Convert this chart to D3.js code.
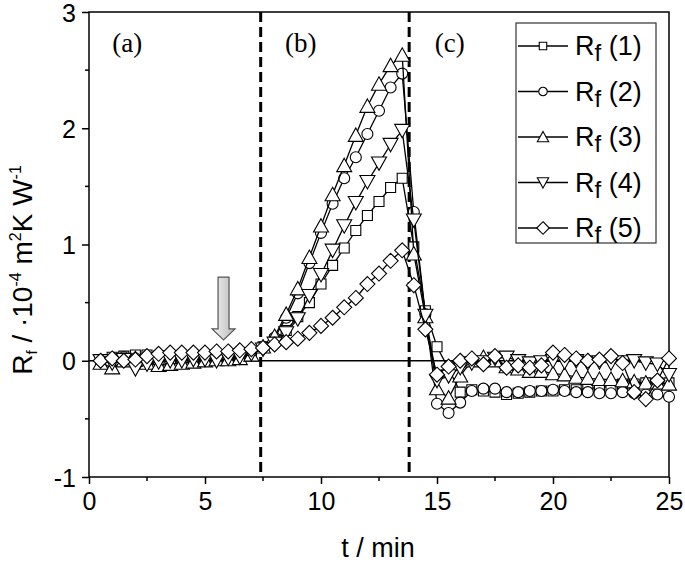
<!DOCTYPE html>
<html><head><meta charset="utf-8">
<script src="https://cdn.jsdelivr.net/npm/d3@7"></script>
<style>body{margin:0;background:#fff}svg{display:block}</style>
</head><body>
<svg id="c" width="685" height="563"></svg>
<script>
// ---- data ----
const times = [0.5,1,1.5,2,2.5,3,3.5,4,4.5,5,5.5,6,6.5,7,
  7.5,8,8.5,9,9.5,10,10.5,11,11.5,12,12.5,13,13.5,
  14,14.5,15,15.5,16,16.5,17,17.5,18,18.5,19,19.5,20,20.5,21,21.5,22,22.5,23,23.5,24,24.5,25];
const rf1 = [0.01,0.03,0.04,0.05,0.05,0.04,0.02,0.02,0.02,0.03,0.03,0.04,0.05,0.07,
  0.12,0.18,0.26,0.38,0.50,0.66,0.82,0.97,1.12,1.25,1.37,1.49,1.57,
  0.98,0.43,0.12,-0.07,-0.27,-0.25,-0.26,-0.27,-0.29,-0.28,-0.27,-0.26,-0.26,-0.25,-0.25,-0.24,-0.23,-0.22,-0.20,-0.20,-0.19,-0.19,-0.19];
const rf2 = [0.00,0.02,0.03,0.02,0.00,-0.01,0.00,0.01,0.01,0.02,0.03,0.03,0.04,0.07,
  0.12,0.20,0.37,0.58,0.84,1.10,1.35,1.57,1.75,1.95,2.15,2.35,2.47,
  1.28,0.40,-0.37,-0.45,-0.36,-0.26,-0.24,-0.24,-0.27,-0.27,-0.26,-0.26,-0.25,-0.26,-0.27,-0.27,-0.28,-0.28,-0.27,-0.28,-0.29,-0.29,-0.31];
const rf3 = [-0.02,-0.06,0.00,0.02,-0.02,-0.04,-0.03,-0.02,-0.01,0.00,0.01,0.01,0.02,0.05,
  0.12,0.21,0.40,0.62,0.89,1.16,1.43,1.68,1.94,2.19,2.38,2.54,2.63,
  0.92,0.38,-0.24,-0.32,-0.13,0.00,0.03,0.00,-0.05,-0.07,-0.09,-0.09,-0.11,-0.12,-0.14,-0.15,-0.16,-0.16,-0.17,-0.18,-0.19,-0.19,-0.20];
const rf4 = [0.00,-0.02,0.01,-0.07,-0.03,-0.01,0.00,0.00,0.01,0.01,0.00,0.02,0.03,0.06,
  0.10,0.15,0.24,0.36,0.56,0.74,0.95,1.16,1.36,1.54,1.70,1.86,1.98,
  1.21,0.39,-0.17,-0.13,-0.06,-0.02,-0.01,0.02,0.03,0.00,-0.02,-0.01,0.00,-0.01,0.00,-0.02,-0.01,-0.02,-0.01,0.00,-0.02,-0.03,-0.12];
const rf5 = [0.00,0.02,0.00,0.01,0.04,0.06,0.07,0.07,0.07,0.07,0.08,0.08,0.09,0.10,
  0.11,0.14,0.16,0.19,0.24,0.30,0.37,0.46,0.54,0.66,0.75,0.86,0.95,
  0.65,0.27,-0.12,-0.05,0.00,0.02,-0.03,0.04,-0.06,-0.04,-0.06,-0.04,0.07,0.05,0.02,0.00,0.01,0.04,-0.02,-0.27,-0.33,-0.17,0.02];
const seriesNames = ["(1)","(2)","(3)","(4)","(5)"];
const seriesValues = [rf1,rf2,rf3,rf4,rf5];
const seriesSymbols = ["square","circle","triangle","triangleDown","diamond"];
const xTicks = [0,5,10,15,20,25];
const yTicks = [-1,0,1,2,3];
const phaseBounds = [7.4,13.8];
const phaseLabels = [{t:1.0,label:"(a)"},{t:8.45,label:"(b)"},{t:14.9,label:"(c)"}];
const arrowAt = {t:5.8, top:0.72, tip:0.18};

// ---- layout ----
const svg = d3.select("#c");
const L=89, R=669, T=12, B=477;
const x = d3.scaleLinear().domain([0,25]).range([L,R]);
const y = d3.scaleLinear().domain([-1,3]).range([B,T]);
const FONT = "Liberation Sans, Arial, Helvetica, sans-serif";

function symPath(type, s){
  const h=s/2;
  switch(type){
    case "square": return `M${-h},${-h}H${h}V${h}H${-h}Z`;
    case "circle": return `M${h},0A${h},${h},0,1,1,${-h},0A${h},${h},0,1,1,${h},0Z`;
    case "triangle": { const w=s*0.6, hh=s*0.58; return `M0,${-hh}L${w},${hh*0.85}L${-w},${hh*0.85}Z`; }
    case "triangleDown": { const w=s*0.6, hh=s*0.58; return `M0,${hh}L${w},${-hh*0.85}L${-w},${-hh*0.85}Z`; }
    case "diamond": { const d=s*0.6; return `M0,${-d}L${d},0L0,${d}L${-d},0Z`; }
  }
}
const plotSize = {square:10,circle:11,triangle:12.5,triangleDown:12.5,diamond:12.5};

// frame
svg.append("rect").attr("x",L).attr("y",T).attr("width",R-L).attr("height",B-T)
  .attr("fill","none").attr("stroke","#000").attr("stroke-width",1.5);

// zero line
svg.append("line").attr("x1",L).attr("x2",R).attr("y1",y(0)).attr("y2",y(0))
  .attr("stroke","#000").attr("stroke-width",1.5);

// phase dashed lines
svg.selectAll("line.phase").data(phaseBounds).enter().append("line")
  .attr("x1",d=>x(d)).attr("x2",d=>x(d)).attr("y1",T).attr("y2",B)
  .attr("stroke","#000").attr("stroke-width",3).attr("stroke-dasharray","10,5");

// axes
const xAxis = d3.axisBottom(x).tickValues(xTicks).tickSize(7).tickPadding(6).tickFormat(d3.format("d"));
const gx = svg.append("g").attr("transform",`translate(0,${B})`).call(xAxis);
const yAxis = d3.axisLeft(y).tickValues(yTicks).tickSize(7).tickPadding(6).tickFormat(d=>d<0?"-"+Math.abs(d):d);
const gy = svg.append("g").attr("transform",`translate(${L},0)`).call(yAxis);
[gx,gy].forEach(g=>{
  g.select(".domain").remove();
  g.selectAll(".tick line").attr("stroke","#000").attr("stroke-width",1.5);
  g.selectAll("text").attr("font-family",FONT).attr("font-size",25).attr("fill","#000");
});
gx.selectAll("text").attr("dy","0.8em");
gy.selectAll("text").attr("dy","0.36em");
// minor ticks
const xMinor = d3.range(2.5,25,5);
svg.selectAll("line.xm").data(xMinor).enter().append("line")
  .attr("x1",d=>x(d)).attr("x2",d=>x(d)).attr("y1",B).attr("y2",B+4)
  .attr("stroke","#000").attr("stroke-width",1.5);
const yMinor = [-0.5,0.5,1.5,2.5];
svg.selectAll("line.ym").data(yMinor).enter().append("line")
  .attr("x1",L-4).attr("x2",L).attr("y1",d=>y(d)).attr("y2",d=>y(d))
  .attr("stroke","#000").attr("stroke-width",1.5);

// series
const line = d3.line().x(d=>x(d[0])).y(d=>y(d[1]));
seriesValues.forEach((vals,i)=>{
  const pts = times.map((t,j)=>[t,vals[j]]);
  const g = svg.append("g");
  g.append("path").attr("d",line(pts)).attr("fill","none").attr("stroke","#000").attr("stroke-width",1.3);
  const sym = seriesSymbols[i];
  g.selectAll("path.m").data(pts).enter().append("path")
    .attr("transform",d=>`translate(${x(d[0])},${y(d[1])})`)
    .attr("d",symPath(sym,plotSize[sym]))
    .attr("fill","#fff").attr("stroke","#000").attr("stroke-width",1.1);
});

// phase labels
svg.selectAll("text.ph").data(phaseLabels).enter().append("text")
  .attr("x",d=>x(d.t)).attr("y",52).text(d=>d.label)
  .attr("font-family","Liberation Serif, Times New Roman, serif").attr("font-size",27).attr("fill","#000");

// arrow
const defs = svg.append("defs");
const grad = defs.append("linearGradient").attr("id","ag").attr("x1","0").attr("x2","1").attr("y1","0").attr("y2","0");
grad.append("stop").attr("offset","0%").attr("stop-color","#f4f4f4");
grad.append("stop").attr("offset","100%").attr("stop-color","#b8b8b8");
const ax = x(arrowAt.t), ay0 = y(arrowAt.top), ay1 = y(arrowAt.tip);
const headY = ay1 - 11;
svg.append("path")
  .attr("d",`M${ax-5.5},${ay0}H${ax+5.5}V${headY}H${ax+11.5}L${ax},${ay1}L${ax-11.5},${headY}H${ax-5.5}Z`)
  .attr("fill","url(#ag)").attr("stroke","#555").attr("stroke-width",1.2);

// legend
const lg = svg.append("g");
lg.append("rect").attr("x",516).attr("y",23).attr("width",140).attr("height",220)
  .attr("fill","#fff").attr("stroke","#333").attr("stroke-width",1.2);
const legSize = {square:7.5,circle:8.5,triangle:9.5,triangleDown:9.5,diamond:10.5};
seriesNames.forEach((nm,i)=>{
  const cy = 46 + i*45.5;
  lg.append("line").attr("x1",518).attr("x2",568).attr("y1",cy).attr("y2",cy).attr("stroke","#000").attr("stroke-width",1.3);
  lg.append("path").attr("transform",`translate(543,${cy})`).attr("d",symPath(seriesSymbols[i],legSize[seriesSymbols[i]]))
    .attr("fill","#fff").attr("stroke","#000").attr("stroke-width",1.1);
  const t = lg.append("text").attr("x",575).attr("y",cy+9).attr("font-family",FONT).attr("font-size",27).attr("fill","#000");
  t.append("tspan").text("R");
  t.append("tspan").attr("dy",6).attr("font-size",24).text("f");
  t.append("tspan").attr("dy",-6).text(" " + nm);
});

// axis titles
svg.append("text").attr("x",378).attr("y",557).attr("text-anchor","middle")
  .attr("font-family",FONT).attr("font-size",27).attr("fill","#000").text("t / min");
const yl = svg.append("text").attr("transform","translate(32,270) rotate(-90)").attr("text-anchor","middle")
  .attr("font-family",FONT).attr("font-size",28).attr("fill","#000");
yl.append("tspan").text("R");
yl.append("tspan").attr("dy",5).attr("font-size",15).text("f");
yl.append("tspan").attr("dy",-5).text(" / ·10");
yl.append("tspan").attr("dy",-11).attr("font-size",16).text("-4");
yl.append("tspan").attr("dy",11).text(" m");
yl.append("tspan").attr("dy",-11).attr("font-size",16).text("2");
yl.append("tspan").attr("dy",11).text("K W");
yl.append("tspan").attr("dy",-11).attr("font-size",16).text("-1");
</script>
</body></html>
